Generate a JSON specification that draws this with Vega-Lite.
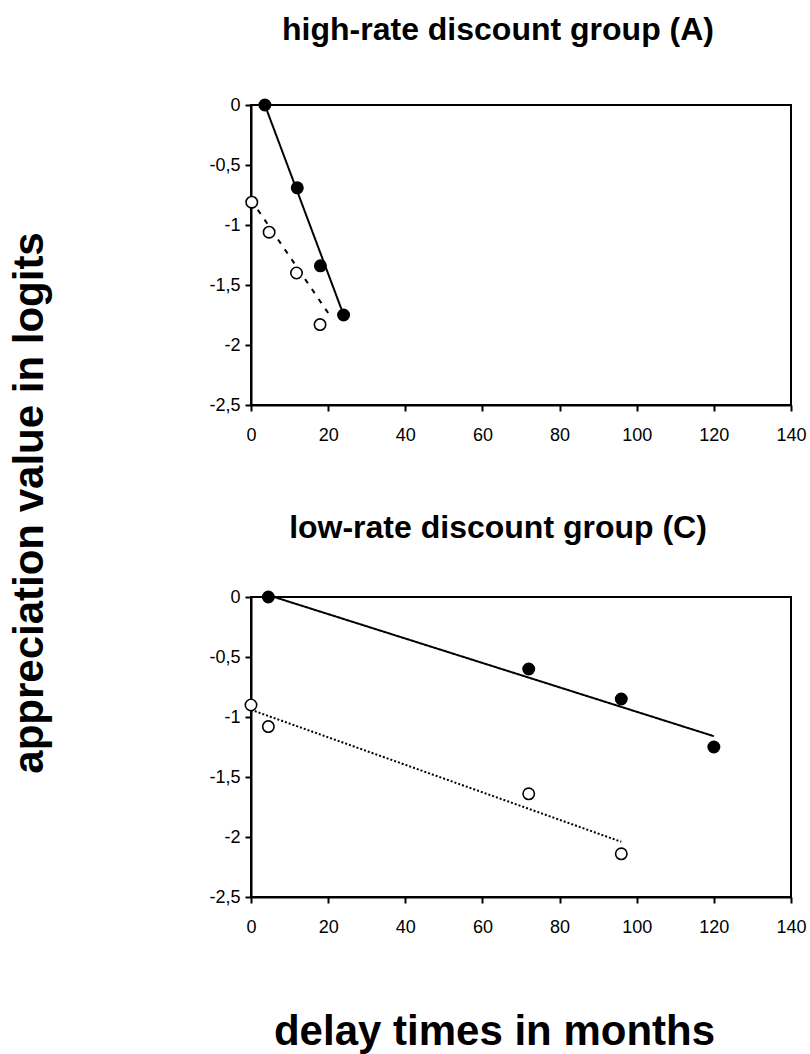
{
  "$schema": "https://vega.github.io/schema/vega-lite/v6.json",
  "background": "white",
  "padding": {"left": 8, "top": 13, "right": 5, "bottom": 5},
  "bounds": "flush",
  "spacing": 192,
  "title": {"text": "appreciation value in logits", "orient": "left", "anchor": "middle", "fontSize": 42, "fontWeight": "bold", "font": "Liberation Sans", "color": "black", "offset": 123, "baseline": "alphabetic", "dx": 30},
  "config": {
    "font": "Liberation Sans",
    "view": {"stroke": "black", "strokeWidth": 2},
    "axis": {"domainColor": "black", "domainWidth": 2, "tickColor": "black", "tickWidth": 2, "tickSize": 6, "labelColor": "black", "labelFontSize": 18, "labelFont": "Liberation Sans", "grid": false, "labelFlush": false},
    "title": {"font": "Liberation Sans", "fontWeight": "bold", "color": "black"}
  },
  "datasets": {
    "points": [
      {"panel": "A", "series": "filled", "delay": 3.6, "logit": 0.0},
      {"panel": "A", "series": "filled", "delay": 12, "logit": -0.69},
      {"panel": "A", "series": "filled", "delay": 18, "logit": -1.34},
      {"panel": "A", "series": "filled", "delay": 24, "logit": -1.75},
      {"panel": "A", "series": "open", "delay": 0.2, "logit": -0.81},
      {"panel": "A", "series": "open", "delay": 4.7, "logit": -1.06},
      {"panel": "A", "series": "open", "delay": 11.8, "logit": -1.4},
      {"panel": "A", "series": "open", "delay": 17.9, "logit": -1.83},
      {"panel": "C", "series": "filled", "delay": 4.5, "logit": 0.0},
      {"panel": "C", "series": "filled", "delay": 72, "logit": -0.6},
      {"panel": "C", "series": "filled", "delay": 96, "logit": -0.85},
      {"panel": "C", "series": "filled", "delay": 120, "logit": -1.25},
      {"panel": "C", "series": "open", "delay": 0, "logit": -0.9},
      {"panel": "C", "series": "open", "delay": 4.5, "logit": -1.08},
      {"panel": "C", "series": "open", "delay": 72, "logit": -1.64},
      {"panel": "C", "series": "open", "delay": 96, "logit": -2.14}
    ],
    "lines": [
      {"panel": "A", "style": "solid", "delay": 3.6, "logit": 0.0},
      {"panel": "A", "style": "solid", "delay": 23.9, "logit": -1.74},
      {"panel": "A", "style": "dashed", "delay": 0, "logit": -0.79},
      {"panel": "A", "style": "dashed", "delay": 21, "logit": -1.78},
      {"panel": "C", "style": "solid", "delay": 6, "logit": 0.0},
      {"panel": "C", "style": "solid", "delay": 120, "logit": -1.16},
      {"panel": "C", "style": "dotted", "delay": 0, "logit": -0.94},
      {"panel": "C", "style": "dotted", "delay": 96, "logit": -2.04}
    ]
  },
  "vconcat": [
    {
      "width": 540, "height": 300,
      "title": {"text": "high-rate discount group (A)", "fontSize": 32, "baseline": "alphabetic", "offset": 24, "dx": -23},
      "layer": [
        {
          "data": {"name": "lines"},
          "transform": [{"filter": "datum.panel === 'A'"}],
          "mark": {"type": "line", "color": "black", "strokeWidth": 2},
          "encoding": {
            "x": {"field": "delay", "type": "quantitative", "scale": {"domain": [0, 140], "nice": false}, "axis": {"values": [0, 20, 40, 60, 80, 100, 120, 140], "title": null, "labelPadding": 15}},
            "y": {"field": "logit", "type": "quantitative", "scale": {"domain": [-2.5, 0], "nice": false}, "axis": {"values": [0, -0.5, -1, -1.5, -2, -2.5], "title": null, "labelPadding": 5, "labelExpr": "replace(toString(datum.value), '.', ',')"}},
            "strokeDash": {"field": "style", "type": "nominal", "scale": {"domain": ["solid", "dashed", "dotted"], "range": [[1, 0], [5, 7], [2, 2]]}, "legend": null}
          }
        },
        {
          "data": {"name": "points"},
          "transform": [{"filter": "datum.panel === 'A'"}],
          "mark": {"type": "point", "shape": "circle", "filled": true, "size": 130, "stroke": "black", "strokeWidth": 1.6, "opacity": 1},
          "encoding": {
            "x": {"field": "delay", "type": "quantitative"},
            "y": {"field": "logit", "type": "quantitative"},
            "fill": {"field": "series", "type": "nominal", "scale": {"domain": ["filled", "open"], "range": ["black", "white"]}, "legend": null}
          }
        }
      ]
    },
    {
      "width": 540, "height": 300,
      "title": {"text": "low-rate discount group (C)", "fontSize": 32, "baseline": "alphabetic", "offset": 18, "dx": -23},
      "layer": [
        {
          "data": {"name": "lines"},
          "transform": [{"filter": "datum.panel === 'C'"}],
          "mark": {"type": "line", "color": "black", "strokeWidth": 2},
          "encoding": {
            "x": {"field": "delay", "type": "quantitative", "scale": {"domain": [0, 140], "nice": false}, "axis": {"values": [0, 20, 40, 60, 80, 100, 120, 140], "title": "delay times in months", "labelPadding": 15, "titleFontSize": 42, "titleFontWeight": "bold", "titleColor": "black", "titleBaseline": "alphabetic", "titleX": 243, "titleY": 147}},
            "y": {"field": "logit", "type": "quantitative", "scale": {"domain": [-2.5, 0], "nice": false}, "axis": {"values": [0, -0.5, -1, -1.5, -2, -2.5], "title": null, "labelPadding": 5, "labelExpr": "replace(toString(datum.value), '.', ',')"}},
            "strokeDash": {"field": "style", "type": "nominal", "scale": {"domain": ["solid", "dashed", "dotted"], "range": [[1, 0], [5, 7], [2, 2]]}, "legend": null}
          }
        },
        {
          "data": {"name": "points"},
          "transform": [{"filter": "datum.panel === 'C'"}],
          "mark": {"type": "point", "shape": "circle", "filled": true, "size": 130, "stroke": "black", "strokeWidth": 1.6, "opacity": 1},
          "encoding": {
            "x": {"field": "delay", "type": "quantitative"},
            "y": {"field": "logit", "type": "quantitative"},
            "fill": {"field": "series", "type": "nominal", "scale": {"domain": ["filled", "open"], "range": ["black", "white"]}, "legend": null}
          }
        }
      ]
    }
  ]
}
